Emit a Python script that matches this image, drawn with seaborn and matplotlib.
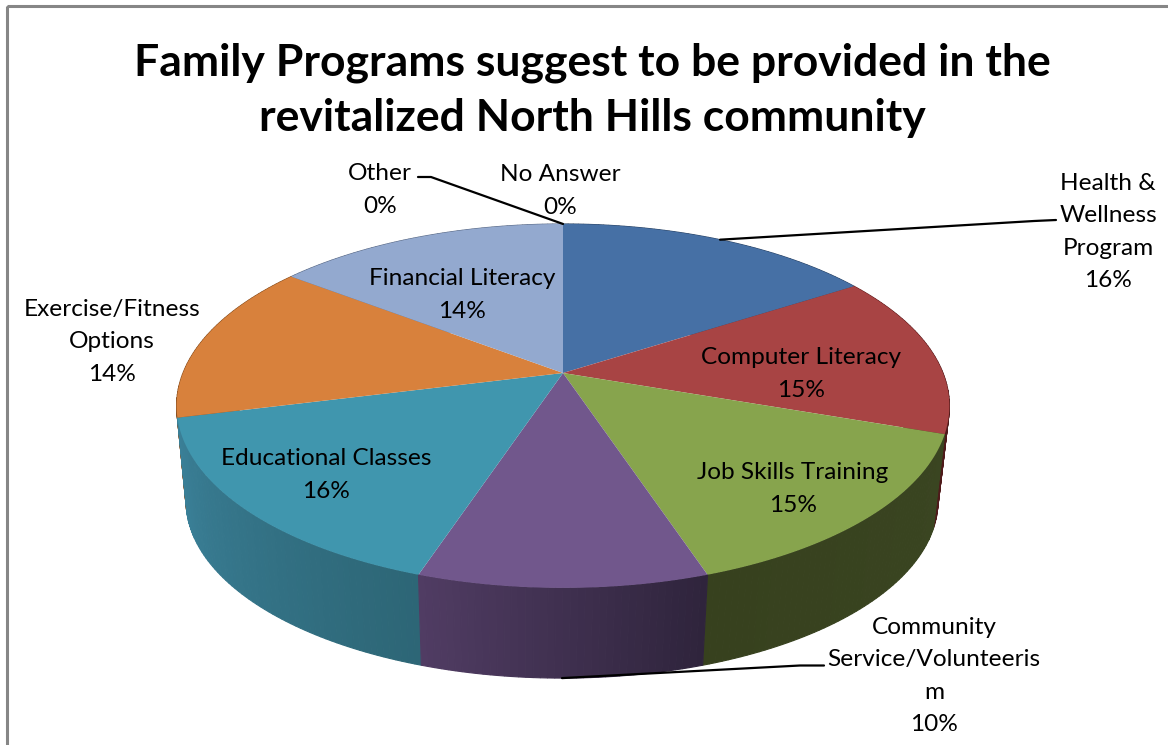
import numpy as np
import matplotlib
matplotlib.use("Agg")
import matplotlib.pyplot as plt
import seaborn as sns
from matplotlib.patches import Rectangle
from matplotlib.path import Path
from matplotlib.transforms import Affine2D, Transform

# Data
categories = ["Health &\nWellness\nProgram", "Computer Literacy", "Job Skills Training",
              "Community\nService/Volunteeris\nm", "Educational Classes",
              "Exercise/Fitness\nOptions", "Financial Literacy", "Other", "No Answer"]
shares = [15.9, 14.4, 14.6, 10.2, 16.0, 14.3, 14.6, 0.0, 0.0]
percent_labels = ["16%", "15%", "15%", "10%", "16%", "14%", "14%", "0%", "0%"]
title_lines = "Family Programs suggest to be provided in the\nrevitalized North Hills community"

top_colors = ["#4670a5", "#a84444", "#87a44d", "#71578c", "#4096ae", "#d8813c", "#93a9cf", "#93a9cf", "#4670a5"]
wall_left = ["#2c4668", "#6a2020", "#3a4521", "#503c63", "#3b8199", "#8a5020", "#5c6c88", "#5c6c88", "#2c4668"]
wall_right = ["#2c4668", "#4e1a1a", "#37411e", "#2f243c", "#2d6676", "#8a5020", "#5c6c88", "#5c6c88", "#2c4668"]

# Label centres in pixels
label_pos = [(1108, 232), (801, 374), (793, 489), (934, 676), (326, 475),
             (112, 342), (462, 295), (380, 190), (560, 191)]

# Perspective of the pie disc
CX, CY = 563, 373
RX, RY, TILT = 380, 176, 0.181
BOTTOM_CX, BOTTOM_CY, BOTTOM_SCALE = 562, 469, 0.973


def project(x, y, cx=CX, cy=CY, scale=1.0):
    w = 1 + TILT * y
    return cx + scale * RX * x / w, cy - scale * RY * y / w


class DiscTransform(Transform):
    input_dims = output_dims = 2
    has_inverse = False
    is_separable = False

    def transform_non_affine(self, values):
        values = np.asarray(values)
        return np.column_stack(project(values[:, 0], values[:, 1]))

    def transform_path_non_affine(self, path):
        # curves have to be flattened before going through the perspective
        big = path.transformed(Affine2D().scale(2000))
        verts = big.to_polygons(closed_only=False)[0] / 2000
        return Path(self.transform_non_affine(verts))


sns.set_theme(style="white")
plt.rcParams["font.family"] = ["Lato", "DejaVu Sans"]

fig, ax = plt.subplots(figsize=(11.68, 7.45), dpi=100)
ax.set_position([0, 0, 1, 1])

wedges, _ = ax.pie(shares, colors=top_colors, startangle=90, counterclock=False,
                   wedgeprops={"linewidth": 0})
ax.set_aspect("auto")
ax.set_xlim(0, 1168)
ax.set_ylim(745, 0)
ax.set_axis_off()

# Side wall: thin strips, back to front, below the top of the pie
edges = np.cumsum([0] + shares) / 100 * 2 * np.pi
strips = []
for i in range(len(shares)):
    n = int(shares[i] * 4)
    if n == 0:
        continue
    phis = np.linspace(edges[i], edges[i + 1], n + 1)
    blend = sns.blend_palette([wall_right[i], wall_left[i]], n) if i > 2 else sns.blend_palette([wall_left[i], wall_right[i]], n)
    for j in range(n):
        strips.append((phis[j], phis[j + 1], blend[j]))

strips.sort(key=lambda s: -np.cos((s[0] + s[1]) / 2))
for a, b, color in strips:
    pair = np.array([a, b])
    x1, y1 = project(np.sin(pair), np.cos(pair))
    x2, y2 = project(np.sin(pair), np.cos(pair), BOTTOM_CX, BOTTOM_CY, BOTTOM_SCALE)
    ax.fill([x1[0], x1[1], x2[1], x2[0]], [y1[0], y1[1], y2[1], y2[0]],
            color=color, linewidth=0.8, zorder=1)

disc = DiscTransform() + ax.transData
for wedge in wedges:
    wedge.set_transform(disc)
    wedge.set_zorder(2)
    wedge.set_clip_on(False)

# Leader lines
health_mid = (edges[0] + edges[1]) / 2
hx, hy = project(np.sin(health_mid), np.cos(health_mid))
ax.plot([hx, 1034, 1056], [hy, 221, 220], color="black", lw=1.6, zorder=3)
cm = (edges[3] + edges[4]) / 2
cx, cy = project(np.sin(cm), np.cos(cm), BOTTOM_CX, BOTTOM_CY, BOTTOM_SCALE)
ax.plot([cx, 800, 824], [cy, 665.5, 665.5], color="black", lw=1.6, zorder=3)
ox, oy = project(0.0, 1.0)
ax.plot([418, 431, ox], [177, 177, oy], color="black", lw=1.6, zorder=3)

# Labels
for name, pct, (lx, ly) in zip(categories, percent_labels, label_pos):
    ax.text(lx, ly, name + "\n" + pct, ha="center", va="center", fontsize=17.6,
            linespacing=1.66, color="black", zorder=4)

ax.text(592, 90, title_lines, ha="center", va="center", fontsize=32.0, fontweight="bold",
        linespacing=1.45, color="black", zorder=4)

# Chart frame, only the left and top edges fall inside the picture
ax.add_patch(Rectangle((7, 6), 1400, 1000, fill=False, edgecolor="#868686", linewidth=2.2, zorder=5))

fig.savefig("out.png", dpi=100)
